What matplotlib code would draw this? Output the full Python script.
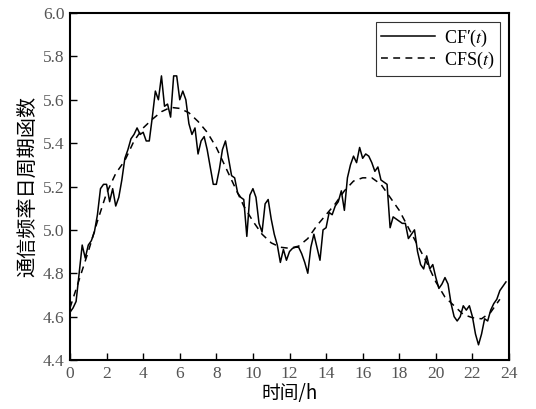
import numpy as np
import matplotlib
matplotlib.use("Agg")
import matplotlib.pyplot as plt

plt.rcParams['font.family'] = ['Liberation Serif', 'Noto Sans CJK SC', 'DejaVu Sans']
plt.rcParams['mathtext.fontset'] = 'stix'

# Measured communication frequency, sampled every 10 minutes
cf_values = [
    4.62, 4.64, 4.67, 4.80, 4.93, 4.87,
    4.93, 4.95, 4.99, 5.07, 5.19, 5.21,
    5.21, 5.13, 5.19, 5.11, 5.15, 5.23,
    5.33, 5.37, 5.42, 5.44, 5.47, 5.44,
    5.45, 5.41, 5.41, 5.52, 5.64, 5.60,
    5.71, 5.57, 5.58, 5.52, 5.71, 5.71,
    5.60, 5.64, 5.60, 5.49, 5.44, 5.47,
    5.35, 5.41, 5.43, 5.37, 5.29, 5.21,
    5.21, 5.28, 5.37, 5.41, 5.33, 5.25,
    5.24, 5.17, 5.15, 5.14, 4.97, 5.16,
    5.19, 5.15, 5.03, 4.99, 5.12, 5.14,
    5.05, 4.98, 4.93, 4.85, 4.91, 4.86,
    4.90, 4.915, 4.92, 4.92, 4.89, 4.85,
    4.80, 4.92, 4.98, 4.92, 4.86, 5.00,
    5.01, 5.08, 5.07, 5.11, 5.13, 5.18,
    5.09, 5.24, 5.30, 5.34, 5.31, 5.38,
    5.33, 5.35, 5.34, 5.31, 5.27, 5.29,
    5.23, 5.22, 5.21, 5.01, 5.06, 5.05,
    5.04, 5.03, 5.03, 4.96, 4.98, 5.00,
    4.90, 4.84, 4.82, 4.88, 4.82, 4.84,
    4.78, 4.73, 4.75, 4.78, 4.75, 4.66,
    4.60, 4.58, 4.60, 4.65, 4.63, 4.65,
    4.60, 4.52, 4.47, 4.52, 4.59, 4.58,
    4.63, 4.66, 4.68, 4.72, 4.74, 4.76,
]
cf_hours = np.arange(len(cf_values)) / 6.0

# Fitted daily periodic function, every half hour
cfs_values = [
    4.64, 4.77, 4.90, 5.04, 5.17, 5.26, 5.32, 5.41, 5.47, 5.51,
    5.545, 5.565, 5.56, 5.54, 5.50, 5.45, 5.38, 5.29, 5.20, 5.11,
    5.04, 4.98, 4.94, 4.92, 4.915, 4.925, 4.96, 5.02, 5.07, 5.12,
    5.18, 5.225, 5.24, 5.24, 5.21, 5.15, 5.09, 5.01, 4.93, 4.85,
    4.76, 4.69, 4.65, 4.61, 4.595, 4.59, 4.62, 4.68,
]
cfs_hours = np.arange(len(cfs_values)) * 0.5

x_ticks = list(range(0, 25, 2))
y_ticks = [4.4, 4.6, 4.8, 5.0, 5.2, 5.4, 5.6, 5.8, 6.0]

fig = plt.figure(figsize=(5.36, 4.09), dpi=100)
ax = fig.add_axes([70 / 536, 49 / 409, 439 / 536, 347 / 409])

ax.plot(cf_hours, cf_values, color='black', lw=1.1, label="CF\u2032($t$)")
ax.plot(cfs_hours, cfs_values, color='black', lw=1.1, ls=(0, (4.5, 3.5)),
        label=r"CFS($t$)")

ax.set_xlim(0, 24)
ax.set_ylim(4.4, 6.0)
ax.set_xticks(x_ticks)
ax.set_yticks(y_ticks)
ax.set_yticklabels([f"{v:.1f}" for v in y_ticks])
ax.tick_params(direction='in', length=5, width=1, labelsize=12.5, pad=4,
               labelcolor='#555555', top=False, right=False)
for s in ax.spines.values():
    s.set_linewidth(1.5)

cjk = ['Noto Sans CJK SC', 'DejaVu Sans']
ax.set_xlabel("时间/h", fontsize=13.5, family=cjk, fontweight='light',
              labelpad=1)
ax.set_ylabel("通信频率日周期函数", fontsize=14.5, family=cjk,
              fontweight='light', labelpad=3)

leg = ax.legend(loc='upper right', fontsize=13, frameon=True, fancybox=False,
                handlelength=3.0, borderpad=0.3, labelspacing=0.05,
                handletextpad=0.5, borderaxespad=0.5)
leg.get_frame().set_edgecolor('black')
leg.get_frame().set_linewidth(0.8)

fig.savefig("out.png", dpi=100)
